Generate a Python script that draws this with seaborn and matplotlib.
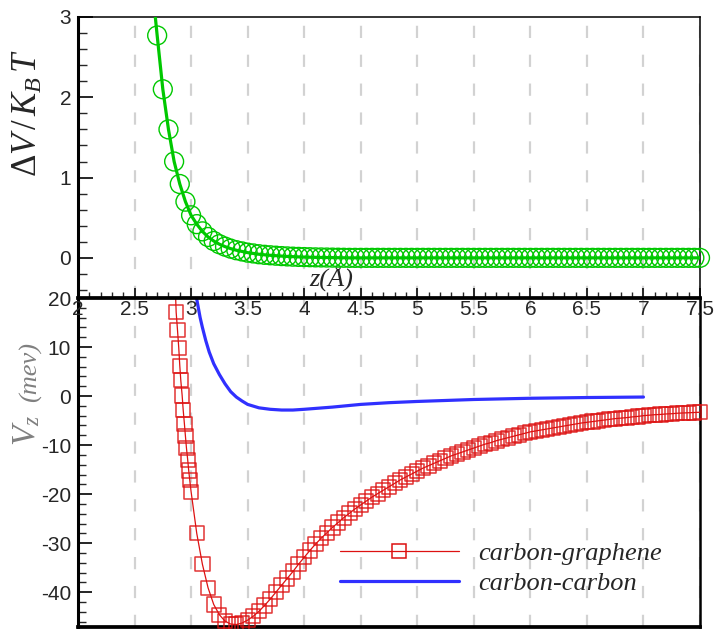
import matplotlib
matplotlib.use("Agg")
import matplotlib.pyplot as plt
from matplotlib.lines import Line2D
from matplotlib.ticker import MultipleLocator, FuncFormatter
import seaborn as sns

# ---- top panel: dV/KBT vs z (green circles + line) ----
z_dv = [2.70, 2.75, 2.80, 2.85, 2.90, 2.95, 3.00, 3.05, 3.10, 3.15, 3.20, 3.25,
        3.30, 3.35, 3.40, 3.45, 3.50, 3.55, 3.60, 3.65, 3.70, 3.75, 3.80, 3.85,
        3.90, 3.95, 4.00, 4.05, 4.10, 4.15, 4.20, 4.25, 4.30, 4.35, 4.40, 4.45,
        4.50, 4.55, 4.60, 4.65, 4.70, 4.75, 4.80, 4.85, 4.90, 4.95, 5.00, 5.05,
        5.10, 5.15, 5.20, 5.25, 5.30, 5.35, 5.40, 5.45, 5.50, 5.55, 5.60, 5.65,
        5.70, 5.75, 5.80, 5.85, 5.90, 5.95, 6.00, 6.05, 6.10, 6.15, 6.20, 6.25,
        6.30, 6.35, 6.40, 6.45, 6.50, 6.55, 6.60, 6.65, 6.70, 6.75, 6.80, 6.85,
        6.90, 6.95, 7.00, 7.05, 7.10, 7.15, 7.20, 7.25, 7.30, 7.35, 7.40, 7.45,
        7.50]
dv = [2.77, 2.10, 1.60, 1.20, 0.92, 0.70, 0.53, 0.42, 0.33, 0.26, 0.21, 0.17,
      0.14, 0.115, 0.095, 0.08, 0.065, 0.055, 0.045, 0.038, 0.032, 0.027, 0.022, 0.018,
      0.015, 0.012, 0.01, 0.008, 0.006, 0.005, 0.004, 0.003, 0.002, 0.001, 0, 0,
      0, 0, 0, 0, 0, 0, 0, 0, 0, 0, 0, 0,
      0, 0, 0, 0, 0, 0, 0, 0, 0, 0, 0, 0,
      0, 0, 0, 0, 0, 0, 0, 0, 0, 0, 0, 0,
      0, 0, 0, 0, 0, 0, 0, 0, 0, 0, 0, 0,
      0, 0, 0, 0, 0, 0, 0, 0, 0, 0, 0, 0,
      0]
# where the green line leaves the top of the panel
dv_line_z0 = 2.68
dv_line_v0 = 3.05

# ---- bottom panel: carbon-graphene (red squares) ----
z_cg = [2.868, 2.880, 2.891, 2.900, 2.909, 2.921, 2.930, 2.941, 2.950, 2.959,
        2.970, 2.979, 2.988, 3.000,
        3.05, 3.10, 3.15, 3.20, 3.25, 3.30, 3.35, 3.40, 3.45, 3.50, 3.55, 3.60,
        3.65, 3.70, 3.75, 3.80, 3.85, 3.90, 3.95, 4.00, 4.05, 4.10, 4.15, 4.20,
        4.25, 4.30, 4.35, 4.40, 4.45, 4.50, 4.55, 4.60, 4.65, 4.70, 4.75, 4.80,
        4.85, 4.90, 4.95, 5.00, 5.05, 5.10, 5.15, 5.20, 5.25, 5.30, 5.35, 5.40,
        5.45, 5.50, 5.55, 5.60, 5.65, 5.70, 5.75, 5.80, 5.85, 5.90, 5.95, 6.00,
        6.05, 6.10, 6.15, 6.20, 6.25, 6.30, 6.35, 6.40, 6.45, 6.50, 6.55, 6.60,
        6.65, 6.70, 6.75, 6.80, 6.85, 6.90, 6.95, 7.00, 7.05, 7.10, 7.15, 7.20,
        7.25, 7.30, 7.35, 7.40, 7.45, 7.50]
v_cg = [17.1, 13.4, 9.8, 6.2, 3.2, 0.1, -2.8, -5.7, -8.2, -10.6,
        -13.0, -15.2, -17.1, -19.5,
        -28.0, -34.3, -39.1, -42.5, -44.6, -45.9, -46.5, -46.6, -46.3, -45.7, -44.9, -43.9,
        -42.7, -41.4, -40.0, -38.6, -37.2, -35.8, -34.3, -32.9, -31.5, -30.2, -29.0, -27.9,
        -26.8, -25.8, -24.8, -23.9, -23.0, -22.2, -21.4, -20.6, -19.9, -19.2, -18.5, -17.8,
        -17.1, -16.5, -15.9, -15.3, -14.7, -14.2, -13.7, -13.2, -12.7, -12.2, -11.8, -11.4,
        -11.0, -10.6, -10.2, -9.8, -9.5, -9.1, -8.8, -8.5, -8.2, -7.9, -7.6, -7.3,
        -7.1, -6.9, -6.7, -6.5, -6.3, -6.1, -5.9, -5.7, -5.5, -5.35, -5.2, -5.05,
        -4.9, -4.75, -4.6, -4.5, -4.4, -4.25, -4.15, -4.0, -3.9, -3.8, -3.75, -3.65,
        -3.6, -3.5, -3.45, -3.4, -3.35, -3.3]
cg_line_z0 = 2.862
cg_line_v0 = 21.0

# ---- bottom panel: carbon-carbon (blue line) ----
z_cc = [3.04, 3.06, 3.08, 3.10, 3.13, 3.16, 3.20, 3.25, 3.30, 3.35, 3.40, 3.45,
        3.50, 3.60, 3.70, 3.80, 3.90, 4.00, 4.25, 4.50, 4.75, 5.00, 5.50, 6.00,
        6.50, 7.00]
v_cc = [21.0, 18.5, 16.0, 14.0, 11.3, 9.0, 6.6, 4.4, 2.5, 0.9, -0.2, -1.0,
        -1.7, -2.4, -2.7, -2.85, -2.85, -2.7, -2.25, -1.7, -1.35, -1.1, -0.7, -0.45,
        -0.3, -0.2]

labels = ["carbon-graphene", "carbon-carbon"]

green = "#00c800"
red = "#dd1111"
blue = "#3030ff"
grey = "#808080"
gridc = "#d2d2d2"

sns.set_style("white")
plt.rcParams["font.family"] = ["Liberation Sans", "DejaVu Sans"]
plt.rcParams["axes.unicode_minus"] = False
plt.rcParams["mathtext.fontset"] = "custom"
plt.rcParams["mathtext.rm"] = "Liberation Serif"
plt.rcParams["mathtext.it"] = "Liberation Serif:italic"
plt.rcParams["mathtext.bf"] = "Liberation Serif:italic:bold"

fig = plt.figure(figsize=(7.18, 6.29), dpi=100)
ax_v = fig.add_axes([78 / 718, 2 / 629, 622 / 718, 329 / 629])
ax_dv = fig.add_axes([78 / 718, 331 / 629, 622 / 718, 281 / 629])
ax_dv.set_zorder(3)

# top panel
sns.lineplot(x=[dv_line_z0] + z_dv, y=[dv_line_v0] + dv, ax=ax_dv, color=green,
             lw=2.3, estimator=None, sort=False, zorder=4)
sns.scatterplot(x=z_dv, y=dv, ax=ax_dv, marker="o", s=185, facecolor="none",
                edgecolor=green, linewidth=1.0, clip_on=False, zorder=5)

# bottom panel
sns.lineplot(x=[cg_line_z0] + z_cg, y=[cg_line_v0] + v_cg, ax=ax_v, color=red,
             lw=0.9, estimator=None, sort=False, zorder=4)
sns.scatterplot(x=z_cg, y=v_cg, ax=ax_v, marker="s", s=105, facecolor="none",
                edgecolor=red, linewidth=1.1, alpha=0.85, clip_on=False, zorder=5)
sns.lineplot(x=z_cc, y=v_cc, ax=ax_v, color=blue, lw=2.3, estimator=None,
             sort=False, zorder=4)

for ax in (ax_dv, ax_v):
    ax.set_xlim(2, 7.5)
    ax.xaxis.set_major_locator(MultipleLocator(0.5))
    ax.grid(axis="x", which="major", color=gridc, lw=1.6, linestyle=(0, (5.5, 7.5)))
    ax.set_axisbelow(True)
    ax.set_xlabel("")
    ax.set_ylabel("")
    for s in ax.spines.values():
        s.set_color("black")

ax_dv.set_ylim(-0.5, 3)
ax_dv.yaxis.set_major_locator(MultipleLocator(1))
ax_dv.yaxis.set_minor_locator(MultipleLocator(0.2))
ax_dv.xaxis.set_minor_locator(MultipleLocator(0.1))
ax_dv.xaxis.set_major_formatter(FuncFormatter(lambda v, p: f"{v:g}"))
ax_dv.yaxis.set_major_formatter(FuncFormatter(lambda v, p: f"{v:g}"))
ax_dv.tick_params(axis="x", which="major", direction="in", length=7, width=1.4,
                  labelsize=15, pad=1.5, top=False, bottom=True)
ax_dv.tick_params(axis="x", which="minor", direction="in", length=4.5, width=1.0,
                  top=False, bottom=True)
ax_dv.tick_params(axis="y", which="major", direction="in", length=11, width=1.4,
                  labelsize=15, pad=5, right=False, left=True)
ax_dv.tick_params(axis="y", which="minor", direction="in", length=6.5, width=1.0,
                  right=False, left=True)
ax_dv.spines["left"].set_linewidth(2.2)
ax_dv.spines["bottom"].set_linewidth(2.7)
ax_dv.spines["top"].set_linewidth(1.1)
ax_dv.spines["right"].set_linewidth(1.1)

ax_v.set_ylim(-47.1, 20)
ax_v.yaxis.set_major_locator(MultipleLocator(10))
ax_v.yaxis.set_minor_locator(MultipleLocator(2))
ax_v.yaxis.set_major_formatter(FuncFormatter(lambda v, p: f"{v:g}"))
ax_v.tick_params(axis="x", which="both", length=0, labelbottom=False)
ax_v.tick_params(axis="y", which="major", direction="in", length=10, width=1.4,
                 labelsize=15, pad=5, right=False, left=True)
ax_v.tick_params(axis="y", which="minor", direction="in", length=6, width=1.0,
                 right=False, left=True)
ax_v.spines["top"].set_visible(False)
ax_v.spines["left"].set_linewidth(2.2)
ax_v.spines["bottom"].set_linewidth(2.7)
ax_v.spines["right"].set_linewidth(1.8)

# axis titles
ax_dv.text(-0.082, 0.658, r"$\Delta V\,/\,K_B\,T$", rotation=90, fontsize=25,
           ha="center", va="center", transform=ax_dv.transAxes)
ax_dv.text(0.407, 0.072, "z(Å)", fontsize=19, style="italic",
           family="Liberation Serif", ha="center", va="center",
           transform=ax_dv.transAxes)
ax_v.text(-0.082, 0.599, r"$V_z$", rotation=90, fontsize=24, color=grey,
          ha="center", va="center", transform=ax_v.transAxes)
ax_v.text(-0.077, 0.775, "(mev)", rotation=90, fontsize=19, color=grey,
          style="italic", family="Liberation Serif", ha="center", va="center",
          transform=ax_v.transAxes)

handles = [
    Line2D([], [], color=red, lw=0.9, marker="s", markersize=10,
           markerfacecolor="none", markeredgecolor=red, markeredgewidth=1.1),
    Line2D([], [], color=blue, lw=2.3),
]
ax_v.legend(handles, labels, loc="center left", bbox_to_anchor=(0.421, 0.179),
            frameon=False, borderpad=0, borderaxespad=0, handlelength=4.5,
            handletextpad=0.75, labelspacing=0.25, numpoints=1,
            prop={"family": "Liberation Serif", "style": "italic", "size": 19})

fig.savefig("out.png", dpi=100)
